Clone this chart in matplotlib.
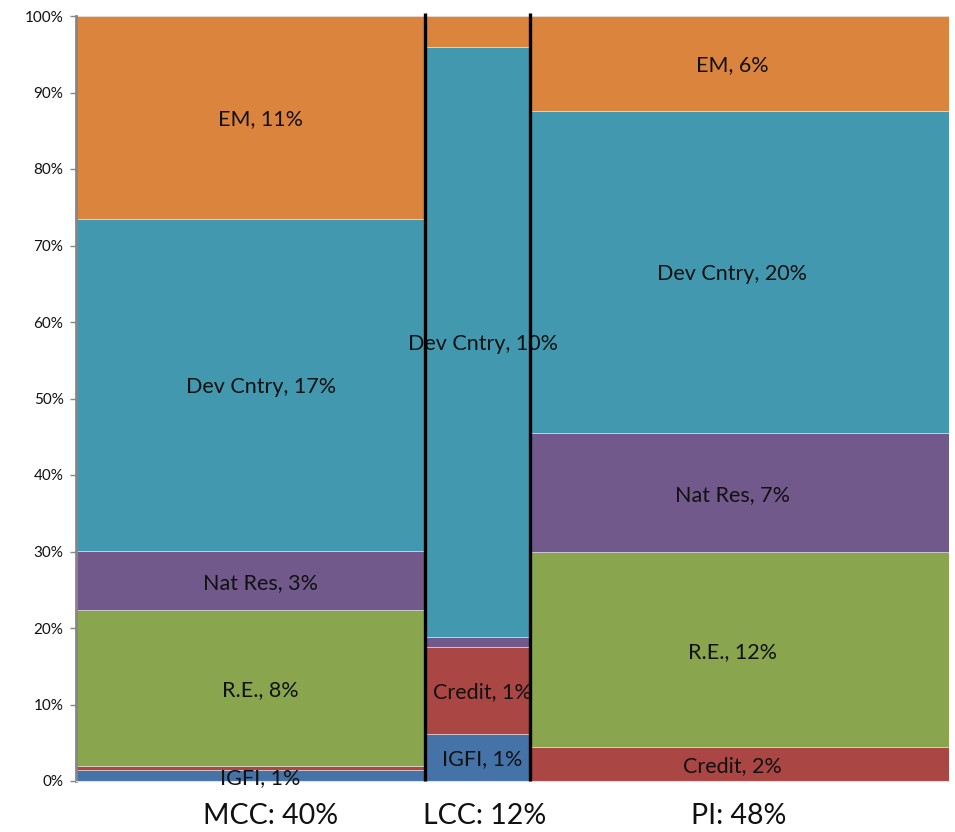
import matplotlib
matplotlib.use("Agg")
import matplotlib.pyplot as plt
import matplotlib.ticker as mtick
import numpy as np

# ── Dados ────────────────────────────────────────────────────────────────────
grupos   = ["MCC", "LCC", "PI"]
larguras = [40, 12, 48]                       # peso de cada grupo (% do total)
classes  = ["IGFI", "Credit", "R.E.", "Nat Res", "Dev Cntry", "EM"]

# composição dentro de cada grupo (% da coluna), de baixo para cima
comp_mcc = [1.4, 0.5, 20.4, 7.8, 43.4, 26.5]
comp_lcc = [6.2, 11.3, 0.0, 1.3, 77.2, 4.0]
comp_pi  = [0.0, 4.4, 25.5, 15.6, 42.1, 12.4]

# rótulos (% do total), None = sem rótulo
rot_mcc = ["IGFI, 1%", None, "R.E., 8%", "Nat Res, 3%", "Dev Cntry, 17%", "EM, 11%"]
rot_lcc = ["IGFI, 1%", "Credit, 1%", None, None, "Dev Cntry, 10%", None]
rot_pi  = [None, "Credit, 2%", "R.E., 12%", "Nat Res, 7%", "Dev Cntry, 20%", "EM, 6%"]

cores = ["#4572A7", "#AA4643", "#89A54E", "#71598C", "#4198AF", "#DB843D"]

comps   = [comp_mcc, comp_lcc, comp_pi]
rotulos = [rot_mcc, rot_lcc, rot_pi]
desloc_rot = [10, 5, -7]      # ajuste horizontal dos rótulos (px)
desloc_cat = [20, 7, -1]

plt.rcParams["font.family"] = ["Lato", "DejaVu Sans"]

fig = plt.figure(figsize=(9.55, 8.32), dpi=100)
ax = fig.add_axes([76 / 955, 51 / 832, (949 - 76) / 955, (816 - 51) / 832])

esq = np.concatenate([[0], np.cumsum(larguras)[:-1]])
for x0, w, comp, rots, dx in zip(esq, larguras, comps, rotulos, desloc_rot):
    base = 0.0
    for v, cor, r in zip(comp, cores, rots):
        if v > 0:
            ax.bar(x0, v, width=w, bottom=base, align="edge", color=cor,
                   edgecolor="#E8E8E8", linewidth=0.4)
        if r:
            ax.annotate(r, (x0 + w / 2, base + v / 2), xytext=(dx * 0.72, -1.5),
                        textcoords="offset points", ha="center", va="center",
                        fontsize=15.5, color="#111111", annotation_clip=False)
        base += v

# divisórias entre grupos
for xb in np.cumsum(larguras)[:-1]:
    ax.plot([xb, xb], [0, 100.4], color="black", linewidth=2.4,
            clip_on=False, zorder=5, solid_capstyle="butt")

ax.set_xlim(0, sum(larguras))
ax.set_ylim(0, 100)
ax.set_yticks(np.arange(0, 101, 10))
ax.yaxis.set_major_formatter(mtick.PercentFormatter(decimals=0))
ax.tick_params(axis="y", labelsize=11, length=4, width=1, color="#868686",
               labelcolor="#111111", pad=5)
ax.set_xticks([])

for s in ("top", "right"):
    ax.spines[s].set_visible(False)
ax.spines["bottom"].set_color("#E0E0E0")
ax.spines["bottom"].set_linewidth(0.8)
ax.spines["left"].set_color("#868686")
ax.spines["left"].set_linewidth(2)

for x0, w, g, dx in zip(esq, larguras, grupos, desloc_cat):
    ax.annotate(f"{g}: {w}%", (x0 + w / 2, 0), xytext=(dx * 0.72, -25),
                textcoords="offset points", ha="center", va="center",
                fontsize=20.5, color="#111111", annotation_clip=False)

fig.savefig("out.png", dpi=100, facecolor="white")
plt.close(fig)
